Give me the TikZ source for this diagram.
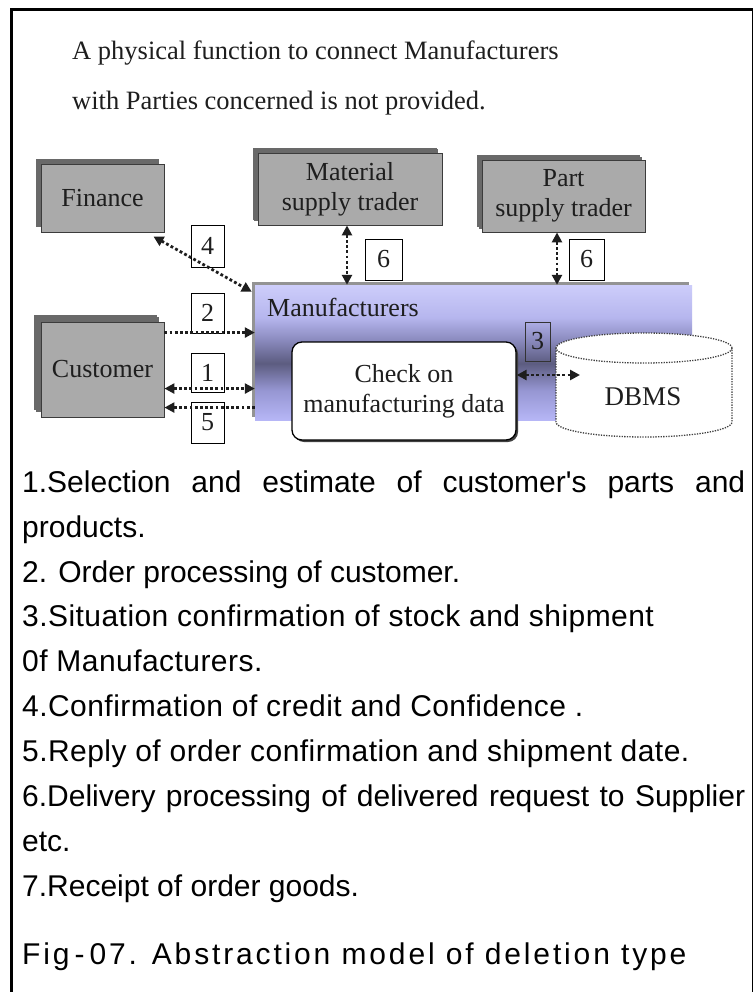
\documentclass[tikz,border=0pt]{standalone}
\usepackage{fontspec}
\setmainfont{Liberation Serif}
\newfontfamily\listfont{Liberation Sans}
\newfontfamily\listwide[LetterSpace=1.5]{Liberation Sans}
\newfontfamily\capfont[LetterSpace=9.5]{Liberation Sans}
\usetikzlibrary{arrows.meta,calc,shadows}

\definecolor{boxgray}{RGB}{170,170,170}
\definecolor{shgray}{RGB}{105,105,105}
\definecolor{edgegray}{RGB}{60,60,60}
\definecolor{inkdark}{RGB}{30,30,30}
% vertical colour profile of the Manufacturers band
\definecolor{bandtop}{RGB}{205,205,250}
\definecolor{bandtopmid}{RGB}{182,182,238}
\definecolor{bandupper}{RGB}{140,140,192}
\definecolor{banddark}{RGB}{92,92,128}
\definecolor{bandlower}{RGB}{150,150,210}
\definecolor{bandbot}{RGB}{182,182,246}

% the band is mapped onto 25bp..75bp of this shading
\pgfdeclareverticalshading{bandshade}{100bp}{%
  color(0bp)=(bandbot); color(25bp)=(bandbot); color(36bp)=(bandlower);
  color(46bp)=(banddark); color(55bp)=(bandupper); color(63bp)=(bandtopmid);
  color(75bp)=(bandtop); color(100bp)=(bandtop)}

\tikzset{
  dfont/.style={font=\fontsize{26}{30}\selectfont, text=inkdark},
  graybox/.style={draw=edgegray, line width=0.9pt, fill=boxgray, inner sep=0pt,
    align=center, dfont,
    drop shadow={shadow xshift=-5pt, shadow yshift=5pt, fill=shgray, opacity=1}},
  numbox/.style={draw=black, line width=0.8pt, fill=white, inner sep=0pt,
    font=\fontsize{26}{28}\selectfont, text=inkdark},
  flow/.style={draw=inkdark, line width=2.8pt, dash pattern=on 2.8pt off 2.4pt},
  tip/.tip={Triangle[length=10pt,width=10pt]},
  dbline/.style={draw=inkdark!85, line width=1.3pt, dash pattern=on 1.3pt off 1.3pt},
  listline/.style={anchor=base west, inner sep=0pt, font=\listfont\fontsize{30}{34}\selectfont},
  listwideline/.style={anchor=base west, inner sep=0pt, font=\listwide\fontsize{30}{34}\selectfont},
}

\begin{document}
\begin{tikzpicture}[x=1pt, y=-1pt]
  \useasboundingbox (0,0) rectangle (753,992);
  \fill[white] (0,0) rectangle (753,992);

  % frame
  \draw[line width=3pt] (11.5,992) -- (11.5,9.5) -- (753,9.5);
  \draw[line width=1.5pt] (752.25,9.5) -- (752.25,992);

  % heading
  \node[anchor=base west, inner sep=0pt, font=\fontsize{26.5}{30}\selectfont, text=inkdark]
    (head1) at (72,60) {A physical function to connect Manufacturers};
  \node[anchor=base west, inner sep=0pt, font=\fontsize{26.5}{30}\selectfont, text=inkdark]
    (head2) at (72,110) {with Parties concerned is not provided.};

  % parties
  \node[graybox, minimum width=123pt, minimum height=68pt] (fin) at (102.5,198) {Finance};
  \node[graybox, minimum width=184pt, minimum height=72pt,
    drop shadow={shadow xshift=-4pt, shadow yshift=4pt, fill=shgray, opacity=1}]
    (mat) at (350,189) {Material\\supply trader};
  \node[graybox, minimum width=163pt, minimum height=72pt,
    drop shadow={shadow xshift=-3pt, shadow yshift=3pt, fill=shgray, opacity=1}]
    (part) at (563.5,196) {Part\\supply trader};
  \node[graybox, minimum width=123pt, minimum height=95pt,
    drop shadow={shadow xshift=-7pt, shadow yshift=7pt, fill=shgray, opacity=1}]
    (cust) at (102.5,369.5) {Customer};

  % manufacturers band
  \node[minimum width=437pt, minimum height=135pt, inner sep=0pt,
    shade, shading=bandshade,
    drop shadow={shadow xshift=-3pt, shadow yshift=3pt, fill=gray!85, opacity=1}]
    (band) at (473.5,352.5) {};
  \node[anchor=west, dfont, inner sep=0pt] (bandlbl) at (267,307) {Manufacturers};

  % check box
  \node[draw=black, line width=1.3pt, fill=white, rounded corners=10pt,
    minimum width=224pt, minimum height=98pt, inner sep=0pt, align=center, dfont,
    drop shadow={shadow xshift=2pt, shadow yshift=-2pt, fill=black!75, opacity=1}]
    (chk) at (404,391) {Check on\\manufacturing data};

  % DBMS store
  \path[fill=white] (556,348) -- (556,422)
    arc[start angle=180, end angle=360, x radius=88pt, y radius=15pt]
    -- (732,348) -- cycle;
  \path[fill=white] (644,348) ellipse [x radius=88pt, y radius=15pt];
  \path[dbline] (556,348) -- (556,422)
    arc[start angle=180, end angle=360, x radius=88pt, y radius=15pt]
    -- (732,348);
  \path[dbline] (644,348) ellipse [x radius=88pt, y radius=15pt];
  \node[font=\fontsize{27}{30}\selectfont, text=inkdark, inner sep=0pt] (db) at (643,397) {DBMS};

  % number tags
  \node[numbox, minimum width=33pt, minimum height=42pt] (n4) at (207.5,246) {4};
  \node[numbox, minimum width=33pt, minimum height=40pt] (n2) at (207.5,313) {2};
  \node[numbox, minimum width=33pt, minimum height=39pt] (n1) at (207.5,372.5) {1};
  \node[numbox, minimum width=33pt, minimum height=41pt] (n5) at (207.5,422.5) {5};
  \node[numbox, minimum width=37pt, minimum height=41pt] (n6a) at (383.5,259.5) {6};
  \node[numbox, minimum width=35pt, minimum height=41pt] (n6b) at (586.5,259.5) {6};
  \node[numbox, fill=none, draw=black!80, minimum width=25pt, minimum height=39pt] (n3) at (537.5,341.5) {3};

  % flows
  \draw[flow, tip-tip] ($(fin.south east)+(-11,4)$) -- ($(band.north west)+(-3,7)$);
  \coordinate (p2) at ($(cust.north east)+(0,11)$);
  \draw[flow, -tip] (p2) -- (p2 -| band.west);
  \coordinate (p1) at ($(cust.north east)+(0,67)$);
  \draw[flow, tip-tip] (p1) -- (p1 -| band.west);
  \coordinate (p5) at ($(cust.north east)+(0,86)$);
  \draw[flow, -tip] (p5 -| band.west) -- (p5);
  \coordinate (p6a) at ($(mat.south)+(-3,0)$);
  \draw[flow, tip-tip] (p6a) -- (p6a |- band.north);
  \coordinate (p6b) at ($(part.south)+(-6.5,0)$);
  \draw[flow, tip-tip] (p6b) -- (p6b |- band.north);
  \coordinate (p3) at ($(chk.east)+(0,-16)$);
  \coordinate (p3e) at (580,375);
  \draw[flow, tip-tip] (p3) -- (p3e);

  % legend
  \node[listline] (l1) at (22,492) {\makebox[723pt][s]{1.Selection and estimate of customer's parts and}};
  \node[listline] (l1b) at (22,537) {products.};
  \node[listline] (l2) at (22,582) {2. Order processing of customer.};
  \node[listwideline] (l3) at (22,626) {3.Situation confirmation of stock and shipment};
  \node[listwideline] (l3b) at (22,671) {0f Manufacturers.};
  \node[listwideline] (l4) at (22,716) {4.Confirmation of credit and Confidence .};
  \node[listwideline] (l5) at (22,761) {5.Reply of order confirmation and shipment date.};
  \node[listline] (l6) at (22,806) {\makebox[723pt][s]{6.Delivery processing of delivered request to Supplier}};
  \node[listline] (l6b) at (22,851) {etc.};
  \node[listline] (l7) at (22,896) {7.Receipt of order goods.};

  % caption
  \node[anchor=base west, inner sep=0pt, font=\capfont\fontsize{30}{34}\selectfont]
    (cap) at (22,964) {Fig\,-\,07. Abstraction model of deletion type};
\end{tikzpicture}
\end{document}
